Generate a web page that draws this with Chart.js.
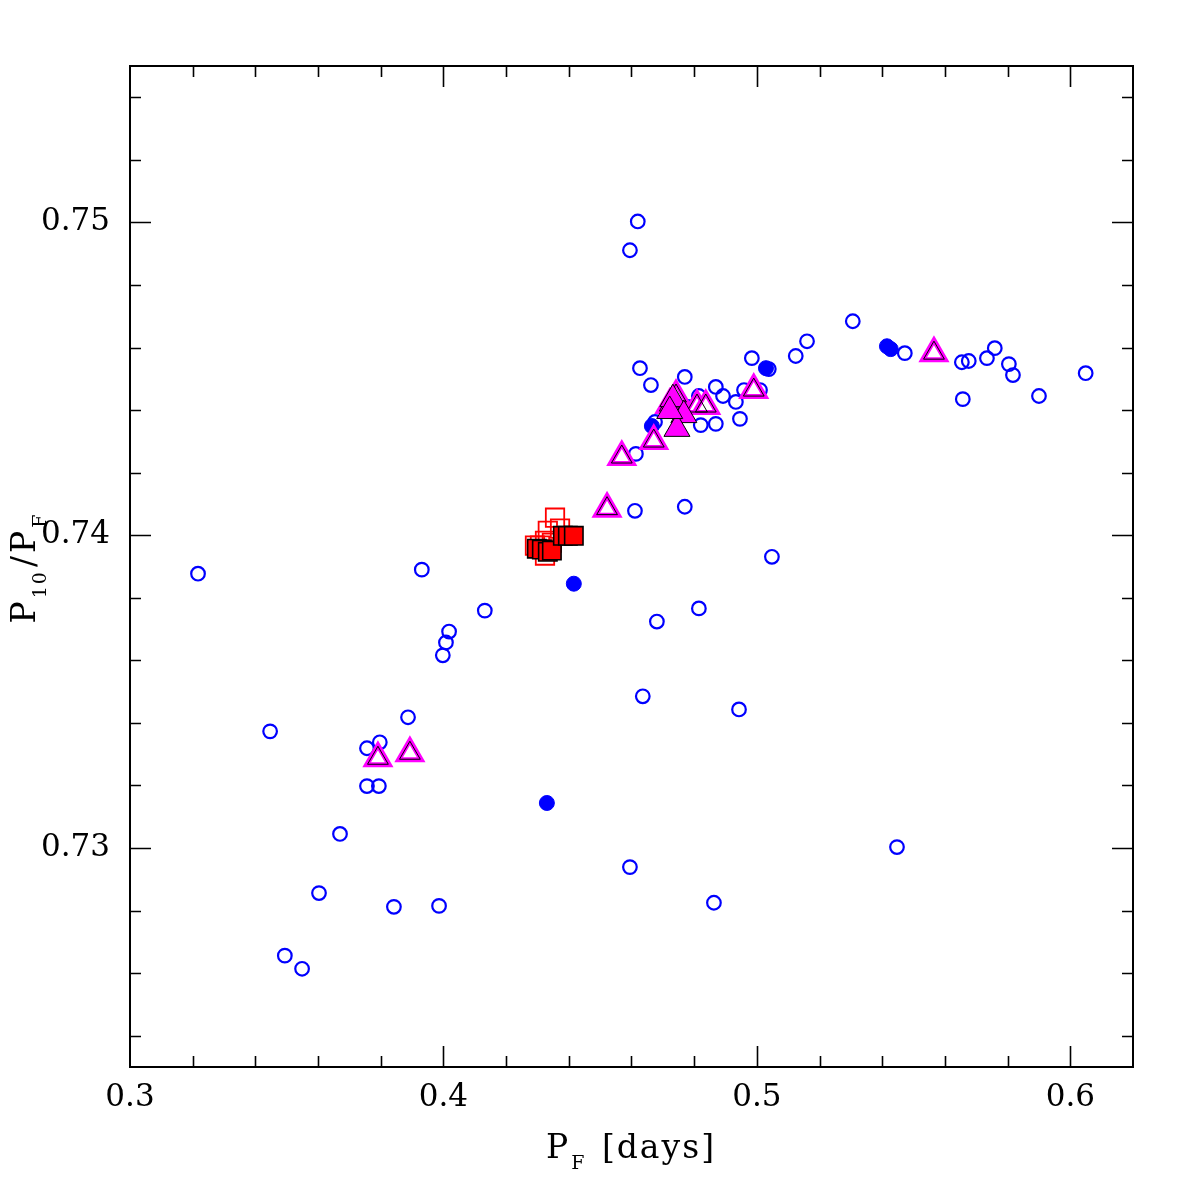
<!DOCTYPE html>
<html>
<head>
<meta charset="utf-8">
<script src="https://cdn.jsdelivr.net/npm/chart.js@4.4.1/dist/chart.umd.min.js"></script>
<style>
  html, body { margin: 0; padding: 0; background: #fff; }
  canvas { display: block; }
</style>
</head>
<body>
<canvas id="chart_period" width="1196" height="1196"></canvas>
<script>
// [P_F, P1O/P_F]
const openCircles = [
    [0.3217, 0.73877], [0.3447, 0.73373], [0.3494, 0.72656], [0.3549, 0.72614],
    [0.3603, 0.72856], [0.3670, 0.73045], [0.3756, 0.73319], [0.3756, 0.73198],
    [0.3794, 0.73198], [0.3797, 0.73338], [0.3842, 0.72812], [0.3887, 0.73418],
    [0.3931, 0.73890], [0.3986, 0.72815], [0.3998, 0.73616], [0.4008, 0.73657],
    [0.4018, 0.73692], [0.4132, 0.73759], [0.4595, 0.72939], [0.4595, 0.74911],
    [0.4620, 0.75003], [0.4611, 0.74078], [0.4614, 0.74260], [0.4627, 0.74534],
    [0.4636, 0.73485], [0.4662, 0.74480], [0.4675, 0.74362], [0.4681, 0.73724],
    [0.4770, 0.74506], [0.4770, 0.74091], [0.4815, 0.73766], [0.4815, 0.74445],
    [0.4821, 0.74352], [0.4863, 0.72825], [0.4869, 0.74474], [0.4869, 0.74356],
    [0.4892, 0.74445], [0.4933, 0.74426], [0.4943, 0.73443], [0.4946, 0.74372],
    [0.4959, 0.74464], [0.4984, 0.74566], [0.5010, 0.74464], [0.5038, 0.74531],
    [0.5048, 0.73931], [0.5124, 0.74573], [0.5160, 0.74620], [0.5306, 0.74684],
    [0.5447, 0.73003], [0.5472, 0.74582], [0.5654, 0.74553], [0.5657, 0.74435],
    [0.5676, 0.74557], [0.5734, 0.74566], [0.5759, 0.74598], [0.5804, 0.74547],
    [0.5817, 0.74512], [0.5900, 0.74445], [0.6049, 0.74518], [0.4780, 0.74410]
];
const filledCircles = [
    [0.4330, 0.73144], [0.4416, 0.73845], [0.4665, 0.74349],
    [0.5029, 0.74534], [0.5415, 0.74604], [0.5427, 0.74595]
];
const openTriangles = [
    [0.3791, 0.73287], [0.3893, 0.73303], [0.4522, 0.74085], [0.4569, 0.74250],
    [0.4671, 0.74301], [0.4722, 0.74416], [0.4742, 0.74445], [0.4809, 0.74413],
    [0.4837, 0.74413], [0.4990, 0.74464], [0.5565, 0.74582]
];
const filledTriangles = [
    [0.4732, 0.74435], [0.4767, 0.74384], [0.4745, 0.74340], [0.4722, 0.74397]
];
const openSquares = [
    [0.4356, 0.74056], [0.4333, 0.74014], [0.4324, 0.73982], [0.4308, 0.73967],
    [0.4346, 0.73976], [0.4324, 0.73935], [0.4372, 0.74021], [0.4292, 0.73967]
];
const filledSquares = [
    [0.4298, 0.73957], [0.4314, 0.73954], [0.4333, 0.73947], [0.4346, 0.73951],
    [0.4381, 0.73998], [0.4397, 0.73998], [0.4416, 0.73998]
];
const xTickLabels = [0.3, 0.4, 0.5, 0.6];
const yTickLabels = [0.73, 0.74, 0.75];

const FONT = "'DejaVu Serif', serif";
const toPoints = arr => arr.map(p => ({x: p[0], y: p[1]}));

function drawParts(ctx, parts, x, y) {
    // parts: [text, isSub]
    let cx = x;
    parts.forEach(([t, sub]) => {
        ctx.font = (sub ? '19px ' : '33px ') + FONT;
        ctx.fillText(t, cx, sub ? y + 11 : y);
        cx += ctx.measureText(t).width + (sub ? 3 : 1);
    });
    return cx - x;
}

const framePlugin = {
    id: 'frame',
    afterDraw(chart) {
        const {ctx, chartArea: a, scales: {x, y}} = chart;
        ctx.save();
        ctx.strokeStyle = '#000';
        ctx.lineWidth = 2;
        ctx.strokeRect(a.left, a.top, a.right - a.left, a.bottom - a.top);
        ctx.lineWidth = 1.6;
        ctx.beginPath();
        for (let i = 1; i <= 15; i++) {
            const px = Math.round(x.getPixelForValue(0.3 + i * 0.02)) + 0.5;
            const len = i % 5 === 0 ? 21 : 11;
            ctx.moveTo(px, a.bottom); ctx.lineTo(px, a.bottom - len);
            ctx.moveTo(px, a.top); ctx.lineTo(px, a.top + len);
        }
        for (let k = 724; k <= 754; k += 2) {
            const py = Math.round(y.getPixelForValue(k / 1000)) + 0.5;
            const len = k % 10 === 0 ? 21 : 11;
            ctx.moveTo(a.left, py); ctx.lineTo(a.left + len, py);
            ctx.moveTo(a.right, py); ctx.lineTo(a.right - len, py);
        }
        ctx.stroke();

        // axis titles
        ctx.fillStyle = '#000';
        ctx.textBaseline = 'alphabetic';
        ctx.textAlign = 'left';
        ctx.letterSpacing = '2px';
        const xParts = [['P', false], ['F', true], [' [days]', false]];
        ctx.globalAlpha = 0;
        const wx = drawParts(ctx, xParts, 0, 0);
        ctx.globalAlpha = 1;
        drawParts(ctx, xParts, (a.left + a.right) / 2 - wx / 2, 1158);

        const yParts = [['P', false], ['10', true], ['/', false], ['P', false], ['F', true]];
        ctx.globalAlpha = 0;
        const wy = drawParts(ctx, yParts, 0, 0);
        ctx.globalAlpha = 1;
        ctx.translate(35, (a.top + a.bottom) / 2);
        ctx.rotate(-Math.PI / 2);
        drawParts(ctx, yParts, -wy / 2, 0);
        ctx.restore();
    }
};

new Chart(document.getElementById('chart_period'), {
    type: 'scatter',
    data: {
        datasets: [
            {
                label: 'filled squares',
                data: toPoints(filledSquares),
                pointStyle: 'rect', pointRadius: 13,
                backgroundColor: '#ff0000', borderColor: '#000', borderWidth: 1.6
            },
            {
                label: 'open squares',
                data: toPoints(openSquares),
                pointStyle: 'rect', pointRadius: 13,
                backgroundColor: 'rgba(0,0,0,0)', borderColor: '#ff0000', borderWidth: 1.8
            },
            {
                label: 'filled triangles',
                data: toPoints(filledTriangles),
                pointStyle: 'triangle', pointRadius: 15,
                backgroundColor: '#ff00ff', borderColor: '#000', borderWidth: 1
            },
            {
                label: 'triangle edge',
                data: toPoints(openTriangles),
                pointStyle: 'triangle', pointRadius: 12,
                backgroundColor: 'rgba(0,0,0,0)', borderColor: '#000', borderWidth: 1
            },
            {
                label: 'open triangles',
                data: toPoints(openTriangles),
                pointStyle: 'triangle', pointRadius: 13,
                backgroundColor: '#ffffff', borderColor: '#ff00ff', borderWidth: 5
            },
            {
                label: 'filled circles',
                data: toPoints(filledCircles),
                pointStyle: 'circle', pointRadius: 7.5,
                backgroundColor: '#0000ff', borderColor: '#0000ff', borderWidth: 1
            },
            {
                label: 'open circles',
                data: toPoints(openCircles),
                pointStyle: 'circle', pointRadius: 6.8,
                backgroundColor: 'rgba(0,0,0,0)', borderColor: '#0000ff', borderWidth: 2.2
            }
        ]
    },
    options: {
        responsive: false,
        animation: false,
        devicePixelRatio: 1,
        layout: { padding: { top: 66, right: 63, left: 0, bottom: 0 } },
        plugins: {
            legend: { display: false },
            tooltip: { enabled: false }
        },
        elements: { point: { hoverRadius: 0 } },
        scales: {
            x: {
                type: 'linear', position: 'bottom',
                min: 0.3, max: 0.62,
                grid: { display: false, drawTicks: false },
                border: { display: false },
                afterBuildTicks: s => { s.ticks = xTickLabels.map(v => ({value: v})); },
                afterFit: s => { s.height = 129; },
                ticks: {
                    color: '#000', padding: 12,
                    font: { family: FONT, size: 31 },
                    callback: v => v.toFixed(1)
                }
            },
            y: {
                type: 'linear', position: 'left',
                min: 0.723, max: 0.755,
                grid: { display: false, drawTicks: false },
                border: { display: false },
                afterBuildTicks: s => { s.ticks = yTickLabels.map(v => ({value: v})); },
                afterFit: s => { s.width = 130; },
                ticks: {
                    color: '#000', padding: 20,
                    font: { family: FONT, size: 31 },
                    callback: v => v.toFixed(2)
                }
            }
        }
    },
    plugins: [framePlugin]
});
</script>
</body>
</html>
